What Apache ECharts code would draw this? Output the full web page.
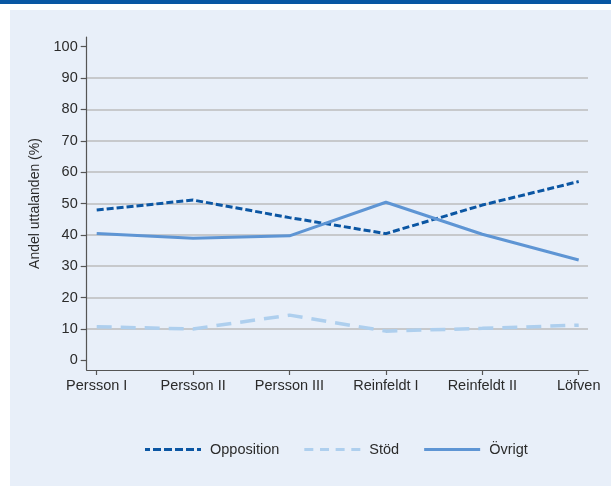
<!DOCTYPE html>
<html>
<head>
<meta charset="utf-8">
<script src="https://cdn.jsdelivr.net/npm/echarts@6/dist/echarts.min.js"></script>
<style>
html,body{margin:0;padding:0;background:#fff;}
#chart{width:611px;height:486px;}
</style>
</head>
<body>
<div id="chart"></div>
<script>
const categories = ['Persson I', 'Persson II', 'Persson III', 'Reinfeldt I', 'Reinfeldt II', 'Löfven'];
const opposition = [47.9, 51.1, 45.5, 40.4, 49.5, 57.0];
const stod = [10.7, 10.0, 14.4, 9.3, 10.2, 11.2];
const ovrigt = [40.4, 38.9, 39.7, 50.4, 40.2, 32.0];
const yTitle = 'Andel uttalanden (%)';
const seriesNames = ['Opposition', 'Stöd', 'Övrigt'];

const FONT = '"Liberation Sans", Arial, Helvetica, sans-serif';
const TXT = '#2b2b2b';
const AX = '#555555';

// legend icons (dash patterns drawn as small filled rectangles, 56 x 3 box)
const iconOpp = 'path://M0,0h5v3h-5zM8,0h8v3h-8zM19,0h8v3h-8zM30,0h8v3h-8zM41,0h8v3h-8zM52,0h4v3h-4z';
const iconStod = 'path://M0,0h9v3h-9zM15.7,0h9v3h-9zM31.3,0h9v3h-9zM47,0h9v3h-9z';
const iconOvr = 'path://M0,0h56v3h-56z';

const chart = echarts.init(document.getElementById('chart'), null, {renderer: 'canvas'});
chart.setOption({
  backgroundColor: '#ffffff',
  animation: false,
  textStyle: {fontFamily: FONT},
  graphic: [
    {type: 'rect', left: 0, top: 0, shape: {width: 611, height: 4}, style: {fill: '#0857a3'}, silent: true, z: -10},
    {type: 'rect', left: 10, top: 10, shape: {width: 601, height: 476}, style: {fill: '#e8eff9'}, silent: true, z: -10}
  ],
  grid: [
    {left: 86.7, right: 23, top: 37, bottom: 116},
    {left: 86.7, right: 23, top: 46.7, bottom: 125.7},
    {left: 96.7, right: 32.3, top: 46.7, bottom: 125.7},
    {left: 96.7, right: 32.3, top: 46.7, bottom: 116}
  ],
  xAxis: [
    {gridIndex: 0, type: 'value', min: 0, max: 1, axisLine: {show: true, onZero: false, lineStyle: {color: AX, width: 1.2}},
     axisTick: {show: false}, axisLabel: {show: false}, splitLine: {show: false}},
    {gridIndex: 1, type: 'value', min: 0, max: 1, show: false},
    {gridIndex: 2, type: 'category', data: categories, boundaryGap: false, show: false},
    {gridIndex: 3, type: 'category', data: categories, boundaryGap: false, position: 'bottom',
     axisLine: {show: false, onZero: false}, axisTick: {show: true, inside: false, length: 5, lineStyle: {color: AX, width: 1.2}},
     axisLabel: {margin: 8, fontSize: 14.5, color: TXT, fontFamily: FONT}, splitLine: {show: false}}
  ],
  yAxis: [
    {gridIndex: 0, type: 'value', min: 0, max: 1, axisLine: {show: true, onZero: false, lineStyle: {color: AX, width: 1.2}},
     axisTick: {show: false}, axisLabel: {show: false}, splitLine: {show: false}},
    {gridIndex: 1, type: 'value', min: 0, max: 100, interval: 10,
     name: yTitle, nameLocation: 'middle', nameGap: 39, nameRotate: 90,
     nameTextStyle: {fontSize: 14, color: TXT, fontFamily: FONT},
     axisLine: {show: false}, axisTick: {show: true, inside: false, length: 6, lineStyle: {color: AX, width: 1.2}},
     axisLabel: {margin: 9, fontSize: 14.5, color: TXT, fontFamily: FONT},
     splitLine: {show: true, showMinLine: false, showMaxLine: false, lineStyle: {color: '#bdbdbd', width: 1.5}}},
    {gridIndex: 2, type: 'value', min: 0, max: 100, show: false},
    {gridIndex: 3, type: 'value', min: 0, max: 1, show: false}
  ],
  legend: {
    left: 140, top: 437, itemWidth: 56, itemHeight: 3.2, itemGap: 25,
    textStyle: {fontSize: 14.5, color: TXT, fontFamily: FONT, padding: [0, 0, 0, 4]},
    data: [
      {name: seriesNames[0], icon: iconOpp},
      {name: seriesNames[1], icon: iconStod},
      {name: seriesNames[2], icon: iconOvr}
    ]
  },
  series: [
    {name: seriesNames[0], type: 'line', xAxisIndex: 2, yAxisIndex: 2, data: opposition, symbol: 'none',
     lineStyle: {color: '#0b56a3', width: 3, type: [7, 3]}, itemStyle: {color: '#0b56a3'}},
    {name: seriesNames[1], type: 'line', xAxisIndex: 2, yAxisIndex: 2, data: stod, symbol: 'none',
     lineStyle: {color: '#aecfee', width: 3.5, type: [15, 9]}, itemStyle: {color: '#aecfee'}},
    {name: seriesNames[2], type: 'line', xAxisIndex: 2, yAxisIndex: 2, data: ovrigt, symbol: 'none',
     lineStyle: {color: '#5e95d4', width: 3}, itemStyle: {color: '#5e95d4'}}
  ]
});
</script>
</body>
</html>
